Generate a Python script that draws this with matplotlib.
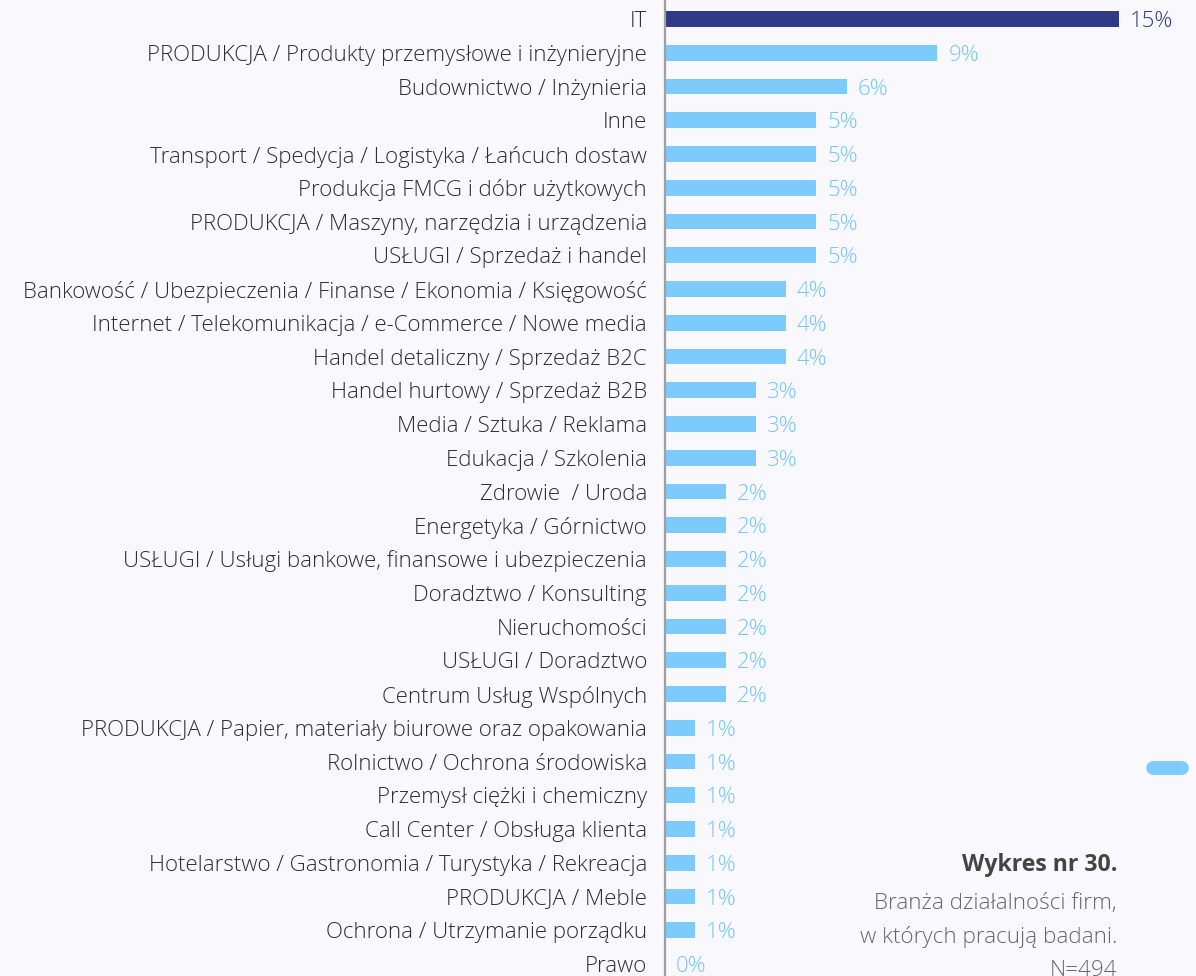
import matplotlib
matplotlib.use("Agg")
import matplotlib.pyplot as plt
from matplotlib.patches import FancyBboxPatch

categories = [
    "IT",
    "PRODUKCJA / Produkty przemysłowe i inżynieryjne",
    "Budownictwo / Inżynieria",
    "Inne",
    "Transport / Spedycja / Logistyka / Łańcuch dostaw",
    "Produkcja FMCG i dóbr użytkowych",
    "PRODUKCJA / Maszyny, narzędzia i urządzenia",
    "USŁUGI / Sprzedaż i handel",
    "Bankowość / Ubezpieczenia / Finanse / Ekonomia / Księgowość",
    "Internet / Telekomunikacja / e-Commerce / Nowe media",
    "Handel detaliczny / Sprzedaż B2C",
    "Handel hurtowy / Sprzedaż B2B",
    "Media / Sztuka / Reklama",
    "Edukacja / Szkolenia",
    "Zdrowie  / Uroda",
    "Energetyka / Górnictwo",
    "USŁUGI / Usługi bankowe, finansowe i ubezpieczenia",
    "Doradztwo / Konsulting",
    "Nieruchomości",
    "USŁUGI / Doradztwo",
    "Centrum Usług Wspólnych",
    "PRODUKCJA / Papier, materiały biurowe oraz opakowania",
    "Rolnictwo / Ochrona środowiska",
    "Przemysł ciężki i chemiczny",
    "Call Center / Obsługa klienta",
    "Hotelarstwo / Gastronomia / Turystyka / Rekreacja",
    "PRODUKCJA / Meble",
    "Ochrona / Utrzymanie porządku",
    "Prawo",
]
values = [15, 9, 6, 5, 5, 5, 5, 5, 4, 4, 4, 3, 3, 3, 2, 2, 2, 2, 2, 2, 2,
          1, 1, 1, 1, 1, 1, 1, 0]

title = "Wykres nr 30."
subtitle_lines = ["Branża działalności firm,", "w których pracują badani.", "N=494"]

BG = "#f8f8fd"
LIGHT = "#7dcbfd"
DARK = "#303a88"
FONT = ["Open Sans", "DejaVu Sans"]

W, H = 1196, 976
fig = plt.figure(figsize=(W / 100, H / 100), dpi=100, facecolor=BG)
ax_left = 665 / W
ax = fig.add_axes([ax_left, 0, 1 - ax_left, 1])
ax.set_facecolor(BG)

row_h = 33.75
y_top = -19 / row_h
y_bot = (len(categories) - 1) + (H - 964) / row_h
px_per_pct = 30.25
ax.set_xlim(0, (W - 665) / px_per_pct)
ax.set_ylim(y_bot, y_top)

colors = [DARK if i == 0 else LIGHT for i in range(len(values))]
label_colors = [DARK if i == 0 else "#74c6fb" for i in range(len(values))]
ys = list(range(len(categories)))
ax.barh(ys, values, height=0.47, color=colors, zorder=2)

for i, v in enumerate(values):
    ax.text(v + 11 / px_per_pct, i, f"{v}%", va="center_baseline", ha="left",
            fontsize=16, color=label_colors[i], family=FONT, fontweight="light")

ax.set_yticks(ys)
ax.set_yticklabels(categories, family=FONT, fontsize=16, color="#2e2e2e",
                   fontweight="light")
ax.tick_params(axis="y", length=0, pad=13)
ax.set_xticks([])
for s in ["top", "right", "bottom"]:
    ax.spines[s].set_visible(False)
ax.spines["left"].set_color("#a0a0a0")
ax.spines["left"].set_linewidth(1.6)

fig.text(1117 / W, 1 - 865 / H, title, ha="right", va="center", fontsize=16.7,
         fontweight="bold", color="#444444", family=FONT)
for k, line in enumerate(subtitle_lines):
    fig.text(1117 / W, 1 - (904 + 33.5 * k) / H, line, ha="right", va="center",
             fontsize=16.2, fontweight="light", color="#666666", family=FONT)

pill = FancyBboxPatch((1146 / W, 1 - 775 / H), 43 / W, 14 / H,
                      boxstyle="round,pad=0,rounding_size=0.007",
                      transform=fig.transFigure, facecolor=LIGHT, edgecolor="none",
                      mutation_aspect=W / H)
fig.patches.append(pill)

fig.savefig("out.png", dpi=100, facecolor=BG)
